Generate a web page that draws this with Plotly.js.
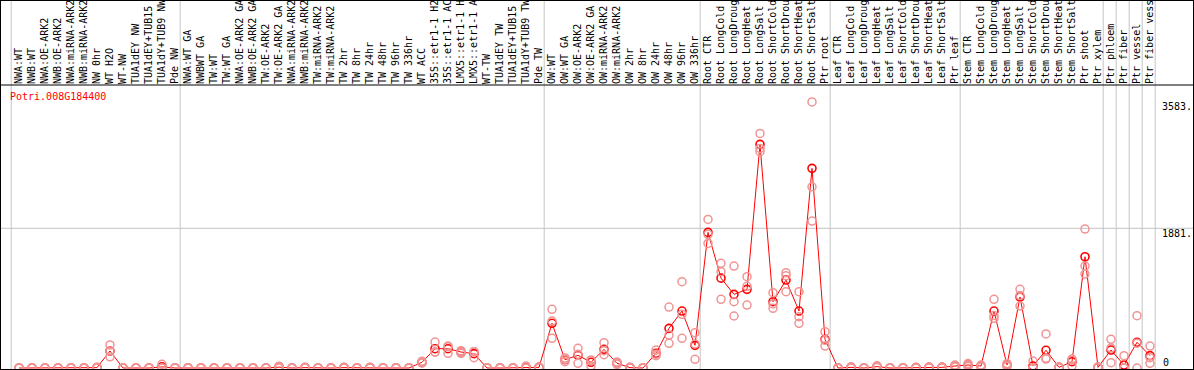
<!DOCTYPE html>
<html><head><meta charset="utf-8">
<script src="https://cdn.plot.ly/plotly-3.0.1.min.js"></script>
<style>html,body{margin:0;padding:0;background:#fff}#chart{width:1194px;height:370px}</style>
</head><body><div id="chart"></div>
<script>
const geneId = 'Potri.008G184400';
const categories = [
  'NWA:WT','NWB:WT','NWA:OE-ARK2','NWB:OE-ARK2','NWA:miRNA-ARK2','NWB:miRNA-ARK2','NW 0hr','WT H2O','WT-NW','TUA1dEY NW','TUA1dEY+TUB15','TUA1dY+TUB9 NW','Pde NW',
  'NWA:WT GA','NWBWT GA','TW:WT','TW:WT GA','NWA:OE-ARK2 GA','NWB:OE-ARK2 GA','TW:OE-ARK2','TW:OE-ARK2 GA','NWA:miRNA-ARK2','NWB:miRNA-ARK2','TW:miRNA-ARK2','TW:miRNA-ARK2',
  'TW 2hr','TW 8hr','TW 24hr','TW 48hr','TW 96hr','TW 336hr','WT ACC','35S::etr1-1 H2','35S::etr1-1 AC','LMX5::etr1-1 H','LMX5::etr1-1 A','WT-TW','TUA1dEY TW','TUA1dEY+TUB15','TUA1dY+TUB9 TW','Pde TW',
  'OW:WT','OW:WT GA','OW:OE-ARK2','OW:OE-ARK2 GA','OW:miRNA-ARK2','OW:miRNA-ARK2','OW 2hr','OW 8hr','OW 24hr','OW 48hr','OW 96hr','OW 336hr',
  'Root CTR','Root LongCold','Root LongDroug','Root LongHeat','Root LongSalt','Root ShortCold','Root ShortDrou','Root ShortHeat','Root ShortSalt','Ptr root',
  'Leaf CTR','Leaf LongCold','Leaf LongDroug','Leaf LongHeat','Leaf LongSalt','Leaf ShortCold','Leaf ShortDrou','Leaf ShortHeat','Leaf ShortSalt','Ptr leaf',
  'Stem CTR','Stem LongCold','Stem LongDroug','Stem LongHeat','Stem LongSalt','Stem ShortCold','Stem ShortDrou','Stem ShortHeat','Stem ShortSalt','Ptr shoot','Ptr xylem',
  'Ptr phloem','Ptr fiber','Ptr vessel','Ptr fiber vess'
];
const groupSizes = [13, 28, 12, 10, 10, 11, 1, 1, 1, 1];
const meanValues = [
  0,0,0,0,0,0,5,229,0,0,0,15,0,
  0,0,0,0,0,0,0,12,0,5,0,0,5,0,5,0,0,0,77,260,260,215,193,0,0,0,5,9,
  602,112,171,77,251,63,5,0,198,534,767,305,
  1826,1210,992,1059,3011,893,1184,767,2688,386,
  0,9,0,18,0,0,5,9,9,27,
  40,27,767,40,956,27,238,9,85,1498,9,
  242,40,346,166
];
const rep1 = [
  0,0,0,0,0,0,10,310,0,0,0,50,0,
  0,0,0,0,0,0,0,25,0,10,0,0,10,0,10,0,0,0,90,350,296,233,220,0,0,0,27,15,
  790,135,265,108,341,80,10,0,242,821,1162,475,
  2001,1409,1373,1229,3159,1014,1283,1027,3583,489,
  0,15,0,30,0,0,10,15,15,40,
  60,40,925,60,1059,94,458,15,120,1871,15,
  386,166,704,296
];
const rep2 = [
  0,0,0,0,0,0,5,229,0,0,0,0,0,
  0,0,0,0,0,0,0,10,0,5,0,0,5,0,5,0,0,0,77,215,198,198,139,0,0,0,0,9,
  632,85,63,27,179,50,5,0,166,444,723,117,
  1678,1297,893,848,2912,803,1027,690,2440,296,
  0,9,0,18,0,0,5,9,9,27,
  40,27,669,40,834,0,130,9,27,1373,9,
  72,0,0,63
];
const rep3 = [
  0,0,0,0,0,0,0,150,0,0,0,0,0,
  0,0,0,0,0,0,0,0,0,0,0,0,0,0,0,0,0,0,65,215,286,215,220,0,0,0,0,3,
  400,116,185,96,233,60,0,0,186,332,400,323,
  1800,925,700,1100,2957,862,1242,601,1979,373,
  0,3,0,6,0,0,0,3,3,14,
  20,14,707,20,975,0,120,3,108,1265,3,
  268,0,334,139
];
const yTickValues = [1881, 3583];
const yTickText = ['1881.', '3583.'];
const yZeroValue = [0];
const yZeroText = ['0'];

const idx = categories.map((c, i) => i);
// separator positions derived from group structure
const separators = [-0.6];
let acc = 0;
groupSizes.forEach(n => { acc += n; separators.push(acc - 1 + 0.4); });

const W = 1194, H = 370;
const mL = 1, mR = 37, mT = 85, mB = 1;
const plotW = W - mL - mR, plotH = H - mT - mB;
const pxPerCat = 13;
const xMin = -18 / pxPerCat;
const xMax = xMin + plotW / pxPerCat;
const pxPerUnit = 139.7 / 1881;
const yMin = -1 / pxPerUnit;
const yMax = yMin + plotH / pxPerUnit;
const px2paperX = p => (p - mL) / plotW;
const px2paperY = p => 1 - (p - mT) / plotH;

const mono = 'DejaVu Sans Mono, monospace';
const shapes = [];
separators.forEach(s => shapes.push({type:'line', xref:'x', yref:'paper', x0:s, x1:s, y0:0, y1:px2paperY(0), line:{color:'#c4c4c4', width:1}, layer:'below'}));
shapes.push({type:'line', xref:'paper', yref:'y', x0:px2paperX(0), x1:px2paperX(W), y0:yTickValues[0], y1:yTickValues[0], line:{color:'#c4c4c4', width:1}, layer:'below'});
// frame
const black = {color:'#000', width:1};
shapes.push({type:'line', xref:'paper', yref:'paper', x0:px2paperX(0), x1:px2paperX(W), y0:1, y1:1, line:black});
shapes.push({type:'line', xref:'paper', yref:'paper', x0:px2paperX(0), x1:px2paperX(W), y0:px2paperY(369.5), y1:px2paperY(369.5), line:black});
shapes.push({type:'line', xref:'paper', yref:'paper', x0:px2paperX(0.5), x1:px2paperX(0.5), y0:px2paperY(370), y1:px2paperY(0), line:black});
shapes.push({type:'line', xref:'paper', yref:'paper', x0:px2paperX(1193.5), x1:px2paperX(1193.5), y0:px2paperY(370), y1:px2paperY(0), line:black});
shapes.push({type:'line', xref:'paper', yref:'paper', x0:px2paperX(0), x1:px2paperX(W), y0:px2paperY(0.5), y1:px2paperY(0.5), line:black});

const traces = [
  {type:'scatter', mode:'markers', x: idx.concat(idx, idx), y: rep1.concat(rep2, rep3), yaxis:'y2',
   marker:{symbol:'circle-open', size:8, color:'#f09494', line:{width:1.5}}, hoverinfo:'skip'},
  {type:'scatter', mode:'lines+markers', x: idx, y: meanValues,
   line:{color:'#ff0000', width:1}, marker:{symbol:'circle-open', size:8, color:'#ff0000', line:{width:1.6}}}
];

const layout = {
  width: W, height: H,
  margin: {l:mL, r:mR, t:mT, b:mB, pad:0},
  paper_bgcolor:'#fff', plot_bgcolor:'rgba(0,0,0,0)',
  showlegend:false,
  xaxis: {range:[xMin, xMax], side:'top', tickmode:'array', tickvals: idx, ticktext: categories,
    tickangle:-90, tickfont:{family:mono, size:10, color:'#000'}, showgrid:false, zeroline:false,
    showline:false, ticks:'', fixedrange:true},
  yaxis: {range:[yMin, yMax], side:'right', tickmode:'array', tickvals: yTickValues, ticktext: yTickText,
    tickfont:{family:mono, size:10, color:'#000'}, showgrid:false, zeroline:false, showline:false, ticks:'',
    ticklabelshift:5, ticklabelstandoff:4, ticklabeloverflow:'allow', fixedrange:true},
  yaxis2: {range:[yMin, yMax], overlaying:'y', side:'right', tickmode:'array', tickvals: yZeroValue, ticktext: yZeroText,
    tickfont:{family:mono, size:10, color:'#000'}, showgrid:false, zeroline:false, showline:false, ticks:'',
    ticklabelshift:-6, ticklabelstandoff:5, ticklabeloverflow:'allow', fixedrange:true},
  shapes: shapes,
  annotations: [{xref:'paper', yref:'paper', x:px2paperX(8), y:px2paperY(97), xanchor:'left', yanchor:'middle',
    text: geneId, showarrow:false, font:{family:mono, size:10, color:'#ff0000'}}]
};

Plotly.newPlot('chart', traces, layout, {displayModeBar:false, staticPlot:true});
</script></body></html>
